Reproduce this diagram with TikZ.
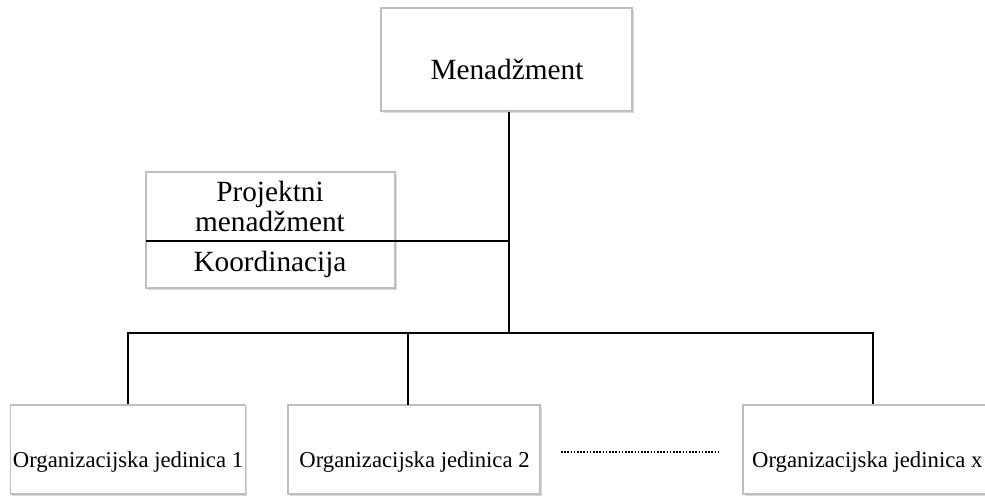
\documentclass[tikz,border=0pt]{standalone}
\usepackage{fontspec}
\setmainfont{Liberation Serif}
\usetikzlibrary{shadows}
\begin{document}
\begin{tikzpicture}[x=1pt,y=-1pt,
  box/.style={draw=gray!50, line width=1.2pt, fill=white, rectangle, inner sep=0pt,
    drop shadow={opacity=0.3, shadow xshift=1.5pt, shadow yshift=-1.5pt, fill=gray}},
  conn/.style={line width=2.2pt, black},
  big/.style={font=\fontsize{29.3}{31}\selectfont, inner sep=0pt, anchor=base},
  small/.style={font=\fontsize{22.7}{25}\selectfont, inner sep=0pt, anchor=base}]
\useasboundingbox (0,0) rectangle (985,496);
\clip (0,0) rectangle (985,496);
\fill[white] (0,0) rectangle (985,496);

% boxes
\node[box, minimum width=251pt, minimum height=103pt] (men) at (506.5,59.5) {};
\node[big] (mentxt) at (507,79) {Menadžment};

\node[box, minimum width=249pt, minimum height=116pt] (proj) at (270.5,230) {};
\node[big] (p1) at (270,201) {Projektni};
\node[big] (p2) at (270,231) {menadžment};
\node[big] (p3) at (270,271) {Koordinacija};

\node[box, minimum width=235pt, minimum height=89pt] (u1) at (128,449.5) {};
\node[box, minimum width=252pt, minimum height=89pt] (u2) at (414,449.5) {};
\node[box, minimum width=260pt, minimum height=89pt] (u3) at (873,449.5) {};
\node[small] (t1) at (128,467) {Organizacijska jedinica 1};
\node[small] (t2) at (414.5,467) {Organizacijska jedinica 2};
\node[small, anchor=base west] (t3) at (752,467) {Organizacijska jedinica x};

% connectors
\coordinate (bus) at (509,333);
\coordinate (pj) at (146,241);
\draw[conn] (men.south -| bus) -- (bus);
\draw[conn] (pj) -- (pj -| bus);
\draw[conn] (u1.north) -- (u1.north |- bus) -- (u3.north |- bus) -- (u3.north);
\draw[conn] (408,333) -- (408,405);

% dots
\coordinate (d1) at (561,452);
\coordinate (d2) at (718,452);
\draw[line width=2pt, dash pattern=on 1.6pt off 1.6pt] (d1) -- (d2);
\end{tikzpicture}
\end{document}
